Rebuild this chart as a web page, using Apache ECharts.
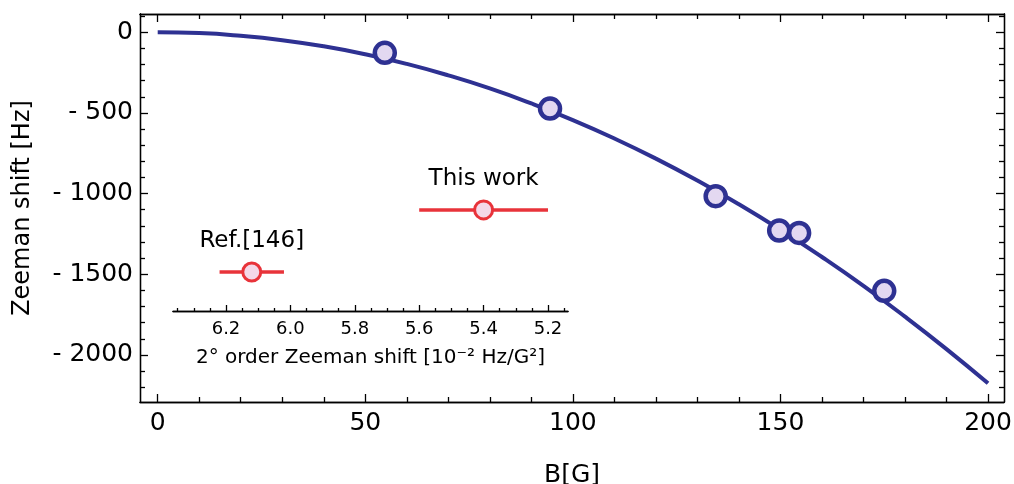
<!DOCTYPE html>
<html>
<head>
<meta charset="utf-8">
<script src="https://cdn.jsdelivr.net/npm/echarts@6/dist/echarts.min.js"></script>
<style>
  html, body { margin: 0; padding: 0; background: #ffffff; }
  #chart { width: 1014px; height: 484px; }
</style>
</head>
<body>
<div id="chart"></div>
<script>
// Quadratic Zeeman shift vs. magnetic field
const fitB = [0, 10, 20, 30, 40, 50, 60, 70, 80, 90, 100, 110, 120, 130, 140, 150, 160, 170, 180, 190, 200];
const fitShift = [0, -5, -22, -49, -87, -136, -196, -267, -348, -441, -544, -658, -783, -919, -1066, -1224, -1393, -1572, -1763, -1964, -2176];

const measB = [54.7, 94.5, 134.4, 149.7, 154.5, 175.0];
const measShift = [-127, -473, -1016, -1229, -1244, -1603];

// Inset: 2nd-order coefficient comparison (10^-2 Hz/G^2)
const coefNames = ['Ref.[146]', 'This work'];
const coefValues = [6.12, 5.40];
const coefErrors = [0.10, 0.20];
const coefRows = [1.3, 3.37];

// Tick values
const xMajor = [0, 50, 100, 150, 200];
const xMinor = [10, 20, 30, 40, 60, 70, 80, 90, 110, 120, 130, 140, 160, 170, 180, 190];
const yMajor = [0, -500, -1000, -1500, -2000];
const yMinor = [100, -100, -200, -300, -400, -600, -700, -800, -900, -1100, -1200, -1300, -1400, -1600, -1700, -1800, -1900, -2100, -2200];
const insetMajor = [6.2, 6.0, 5.8, 5.6, 5.4, 5.2];
const insetMinor = [6.35, 6.3, 6.25, 6.15, 6.1, 6.05, 5.95, 5.9, 5.85, 5.75, 5.7, 5.65, 5.55, 5.5, 5.45, 5.35, 5.3, 5.25, 5.15];

const FONT = 'DejaVu Sans';
const BLUE = '#2e3192';
const RED = '#e8333a';
const lineStyle = { color: '#000', width: 1.3 };

const X_MIN = -4.264, X_MAX = 203.85;
const Y_MIN = -2292, Y_MAX = 113.5;
const I_MIN = 5.1379, I_MAX = 6.3646;

function mainX(position, ticks, len, withLabels, extra) {
  return Object.assign({
    type: 'value', gridIndex: 0, position: position,
    min: X_MIN, max: X_MAX,
    axisLine: { show: true, onZero: false, lineStyle: lineStyle },
    axisTick: { show: true, inside: true, length: len, customValues: ticks, lineStyle: lineStyle },
    axisLabel: withLabels
      ? { show: true, customValues: ticks, fontFamily: FONT, fontSize: 25, color: '#000', margin: 9 }
      : { show: false },
    splitLine: { show: false }
  }, extra || {});
}

function mainY(position, ticks, len, withLabels, extra) {
  return Object.assign({
    type: 'value', gridIndex: 0, position: position,
    min: Y_MIN, max: Y_MAX,
    axisLine: { show: true, onZero: false, lineStyle: lineStyle },
    axisTick: { show: true, inside: true, length: len, customValues: ticks, lineStyle: lineStyle },
    axisLabel: withLabels
      ? {
          show: true, customValues: ticks, fontFamily: FONT, fontSize: 25, color: '#000', margin: 7,
          formatter: v => (v < 0 ? '- ' + Math.abs(v) : String(v))
        }
      : { show: false },
    splitLine: { show: false }
  }, extra || {});
}

function insetX(ticks, len, withLabels, extra) {
  return Object.assign({
    type: 'value', gridIndex: 1, position: 'bottom', inverse: true,
    min: I_MIN, max: I_MAX,
    axisLine: { show: true, onZero: false, lineStyle: lineStyle },
    axisTick: { show: true, inside: true, length: len, customValues: ticks, lineStyle: lineStyle },
    axisLabel: withLabels
      ? {
          show: true, customValues: ticks, fontFamily: FONT, fontSize: 18, color: '#000', margin: 9,
          formatter: v => v.toFixed(1)
        }
      : { show: false },
    splitLine: { show: false }
  }, extra || {});
}

const chart = echarts.init(document.getElementById('chart'), null, { renderer: 'canvas' });

chart.setOption({
  animation: false,
  backgroundColor: '#ffffff',
  textStyle: { fontFamily: FONT },
  grid: [
    { left: 140, top: 14, width: 864, height: 388, containLabel: false, outerBoundsMode: 'none' },
    { left: 173, top: 191, width: 395, height: 120, containLabel: false, outerBoundsMode: 'none' }
  ],
  xAxis: [
    mainX('bottom', xMajor, 8, true, {
      name: 'B[G]', nameLocation: 'middle', nameGap: 61,
      nameTextStyle: { fontFamily: FONT, fontSize: 25, color: '#000' }
    }),
    mainX('bottom', xMinor, 5, false),
    mainX('top', xMajor, 8, false),
    mainX('top', xMinor, 5, false),
    insetX(insetMajor, 6, true, {
      name: '2° order Zeeman shift [10⁻² Hz/G²]', nameLocation: 'middle', nameGap: 37,
      nameTextStyle: { fontFamily: FONT, fontSize: 20, color: '#000' }
    }),
    insetX(insetMinor, 3, false)
  ],
  yAxis: [
    mainY('left', yMajor, 8, true, {
      name: 'Zeeman shift [Hz]', nameLocation: 'middle', nameGap: 105,
      nameTextStyle: { fontFamily: FONT, fontSize: 24, color: '#000' }
    }),
    mainY('left', yMinor, 5, false),
    mainY('right', yMajor, 8, false),
    mainY('right', yMinor, 5, false),
    {
      type: 'value', gridIndex: 1, min: 0, max: 4, show: false,
      splitLine: { show: false }
    }
  ],
  series: [
    {
      type: 'line', xAxisIndex: 0, yAxisIndex: 0,
      data: fitB.map((b, i) => [b, fitShift[i]]),
      smooth: true, showSymbol: false, symbol: 'none',
      lineStyle: { color: BLUE, width: 4 },
      z: 2
    },
    {
      type: 'scatter', xAxisIndex: 0, yAxisIndex: 0,
      data: measB.map((b, i) => [b, measShift[i]]),
      symbol: 'circle', symbolSize: 20,
      itemStyle: { color: '#e3d8f1', borderColor: BLUE, borderWidth: 4.5, opacity: 1 },
      z: 3
    },
    {
      type: 'custom', xAxisIndex: 4, yAxisIndex: 4,
      data: coefValues.map((v, i) => [v - coefErrors[i], v + coefErrors[i], coefRows[i]]),
      renderItem: function (params, api) {
        const a = api.coord([api.value(0), api.value(2)]);
        const b = api.coord([api.value(1), api.value(2)]);
        return {
          type: 'line',
          shape: { x1: a[0], y1: a[1], x2: b[0], y2: b[1] },
          style: { stroke: RED, lineWidth: 3.5 }
        };
      },
      z: 3
    },
    {
      type: 'scatter', xAxisIndex: 4, yAxisIndex: 4,
      data: coefValues.map((v, i) => ({ name: coefNames[i], value: [v, coefRows[i]] })),
      symbol: 'circle', symbolSize: 18,
      itemStyle: { color: '#f4d8e8', borderColor: RED, borderWidth: 3, opacity: 1 },
      label: {
        show: true, position: 'top', distance: 9,
        formatter: p => p.name,
        fontFamily: FONT, fontSize: 23, color: '#000'
      },
      z: 4
    }
  ]
});
</script>
</body>
</html>
